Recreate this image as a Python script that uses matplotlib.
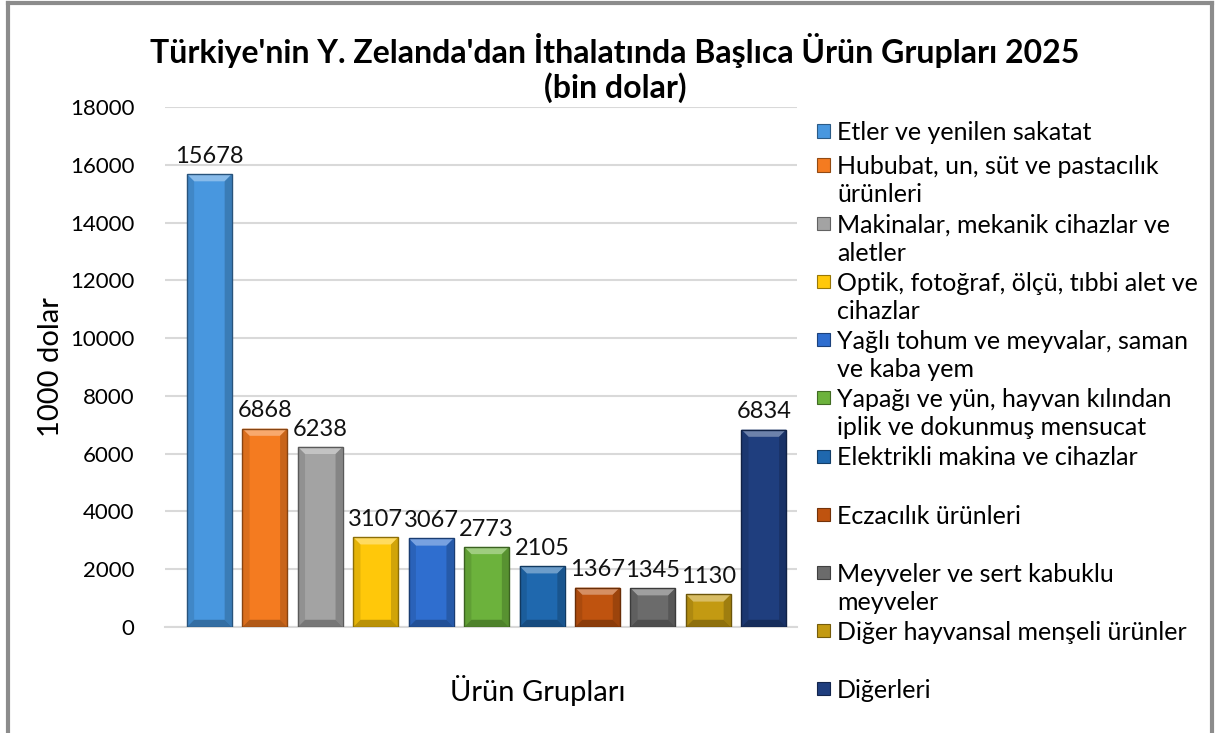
import matplotlib
matplotlib.use("Agg")
import matplotlib.pyplot as plt
import matplotlib.colors as mcolors
from matplotlib.patches import Rectangle, Polygon
from matplotlib.lines import Line2D
import numpy as np

plt.rcParams['font.family'] = ['Lato', 'DejaVu Sans']

# data
categories = [
    "Etler ve yenilen sakatat",
    "Hububat, un, süt ve pastacılık\nürünleri",
    "Makinalar, mekanik cihazlar ve\naletler",
    "Optik, fotoğraf, ölçü, tıbbi alet ve\ncihazlar",
    "Yağlı tohum ve meyvalar, saman\nve kaba yem",
    "Yapağı ve yün, hayvan kılından\niplik ve dokunmuş mensucat",
    "Elektrikli makina ve cihazlar",
    "Eczacılık ürünleri",
    "Meyveler ve sert kabuklu\nmeyveler",
    "Diğer hayvansal menşeli ürünler",
    "Diğerleri",
]
values = [15678, 6868, 6238, 3107, 3067, 2773, 2105, 1367, 1345, 1130, 6834]
colors = ["#4897DF", "#F47B20", "#A3A3A3", "#FFC80A", "#2F6ECF", "#6CB23C",
          "#1F68AE", "#BF530F", "#6B6B6B", "#C39A12", "#1F3E7E"]
y_ticks = [0, 2000, 4000, 6000, 8000, 10000, 12000, 14000, 16000, 18000]

title = "Türkiye'nin Y. Zelanda'dan İthalatında Başlıca Ürün Grupları 2025\n(bin dolar)"

W, H = 1219, 733
fig = plt.figure(figsize=(W / 100, H / 100), dpi=100)
ax = fig.add_axes([0.1354, 0.1446, 0.5185, 0.7094])

x = np.arange(len(values))
bw = 0.81
bars = ax.bar(x, values, width=bw, color=colors, zorder=3)

ax.set_xlim(-0.8, 10.6)
ax.set_ylim(0, 18000)

# bevel look: lighter top, darker sides/bottom
bx = 0.13
by = 250
for b, c in zip(bars, colors):
    x0 = b.get_x()
    x1 = x0 + b.get_width()
    h = b.get_height()
    rgb = np.array(mcolors.to_rgb(c))
    light = rgb + (1 - rgb) * 0.35
    dark = rgb * 0.7
    darker = rgb * 0.55
    ax.add_patch(Polygon([(x0, h), (x1, h), (x1 - bx, h - by), (x0 + bx, h - by)],
                         closed=True, facecolor=light, edgecolor='none', zorder=4))
    ax.add_patch(Polygon([(x1, h), (x1, 0), (x1 - bx, by), (x1 - bx, h - by)],
                         closed=True, facecolor=dark, edgecolor='none', zorder=4, alpha=0.6))
    ax.add_patch(Polygon([(x0, h), (x0, 0), (x0 + bx, by), (x0 + bx, h - by)],
                         closed=True, facecolor=dark, edgecolor='none', zorder=4, alpha=0.35))
    ax.add_patch(Polygon([(x0, 0), (x1, 0), (x1 - bx, by), (x0 + bx, by)],
                         closed=True, facecolor=darker, edgecolor='none', zorder=4, alpha=0.6))
    ax.add_patch(Rectangle((x0, 0), x1 - x0, h, facecolor='none', edgecolor=darker,
                           lw=1.0, zorder=5))
    ax.text(b.get_x() + b.get_width() / 2, h + 250, str(int(h)), ha='center', va='bottom',
            fontsize=17, color='#111111', zorder=6)

ax.set_yticks(y_ticks)
ax.set_yticklabels([str(t) for t in y_ticks], fontsize=16)
ax.set_xticks([])
ax.tick_params(axis='y', length=0, pad=22)
ax.grid(axis='y', color='#D9D9D9', lw=1.5, zorder=0)
for s in ['top', 'right', 'left']:
    ax.spines[s].set_visible(False)
ax.spines['bottom'].set_color('#D9D9D9')
ax.spines['bottom'].set_linewidth(1.5)

ax.set_ylabel("1000 dolar", fontsize=21, labelpad=4)
fig.text(538 / W, 1 - 690 / H, "Ürün Grupları", ha='center', va='center', fontsize=21)

fig.text(615 / W, 1 - 68 / H, title, ha='center', va='center', fontsize=23,
         fontweight='bold', linespacing=1.15)

# legend, drawn by hand so each entry sits where Excel put it
first_rows = [131] + [165 + 58.2 * k for k in range(len(categories) - 1)]
line_gap = 28
for lab, c, yp in zip(categories, colors, first_rows):
    yy = 1 - yp / H
    fig.patches.append(Rectangle((817 / W, yy - 6.5 / H), 12.5 / W, 13 / H, facecolor=c,
                                 edgecolor=np.array(mcolors.to_rgb(c)) * 0.6, lw=0.8,
                                 transform=fig.transFigure, figure=fig))
    for j, line in enumerate(lab.split("\n")):
        fig.text(837 / W, 1 - (yp + j * line_gap) / H, line, ha='left',
                 va='center_baseline', fontsize=18)

# chart frame
frame_kw = dict(color='#8C8C8C', lw=3, transform=fig.transFigure)
fig.add_artist(Line2D([8 / W, 8 / W], [0, 1 - 3 / H], **frame_kw))
fig.add_artist(Line2D([1212 / W, 1212 / W], [0, 1 - 3 / H], **frame_kw))
fig.add_artist(Line2D([8 / W, 1212 / W], [1 - 3 / H, 1 - 3 / H], **frame_kw))

fig.savefig("out.png", dpi=100)
